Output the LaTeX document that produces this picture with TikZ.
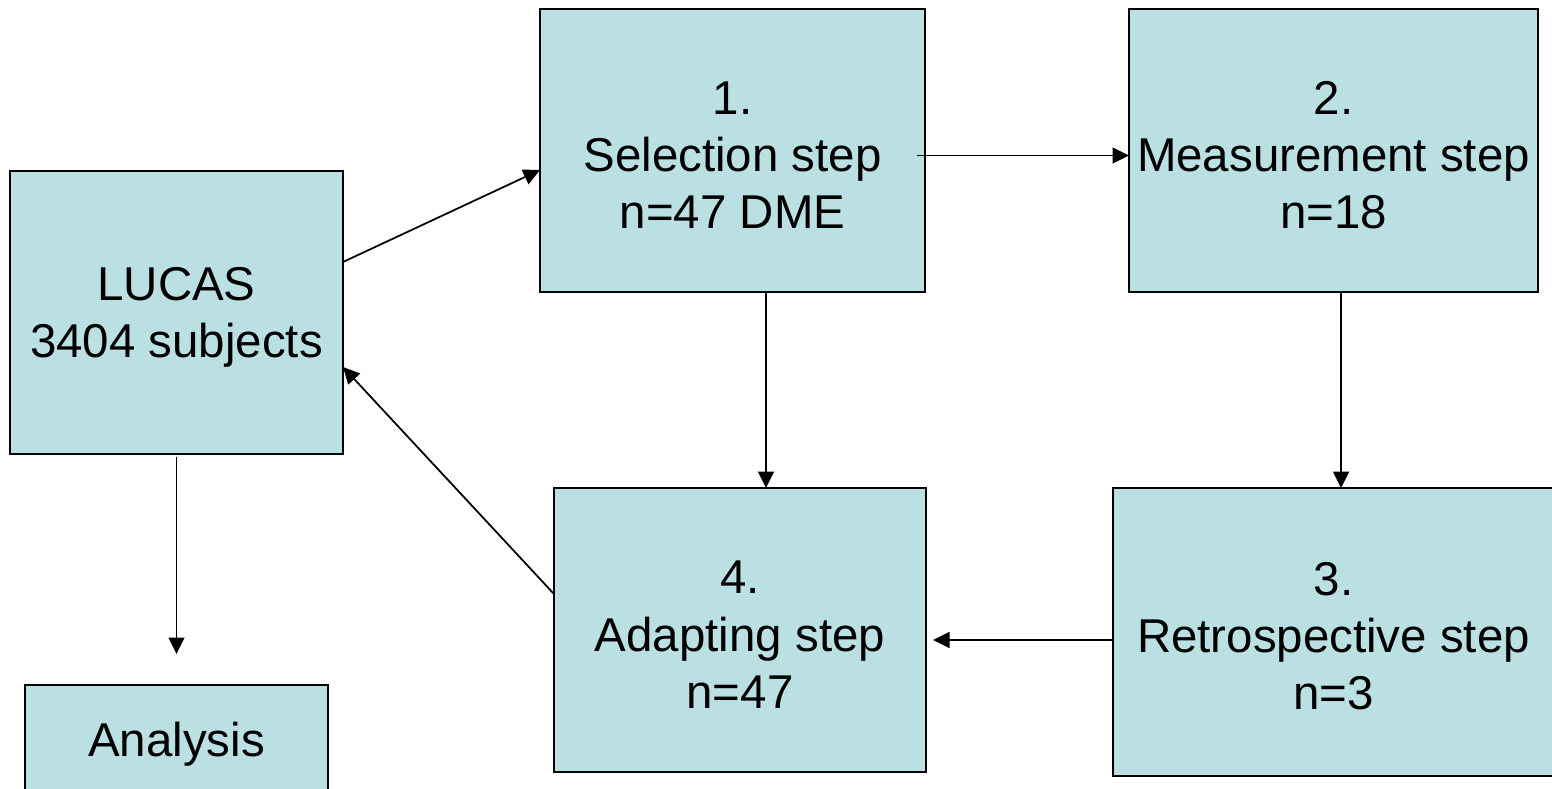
\documentclass[tikz,border=0pt]{standalone}
\usepackage{fontspec}
\setmainfont{Liberation Sans}
\usetikzlibrary{arrows.meta}
\definecolor{boxfill}{RGB}{187,224,227}
\newcommand{\topgap}{\rule{0pt}{24pt}}

\begin{document}
\begin{tikzpicture}[
  stepbox/.style={draw=black, line width=1.2pt, fill=boxfill, inner sep=0pt,
    outer sep=0pt, align=center, font=\fontsize{27}{32.5}\selectfont},
  arr/.style={-{Triangle[length=0.33cm,width=0.32cm]}, line width=1pt}
]
\clip (0,0) rectangle (31.04cm,-15.76cm);
\fill[white] (0,0) rectangle (31.04cm,-15.76cm);

\draw (3.53cm,-6.25cm)   node (lucas) [stepbox, minimum width=6.66cm, minimum height=5.66cm] {\topgap LUCAS\\3404 subjects};
\draw (3.53cm,-14.8cm)   node (analysis) [stepbox, minimum width=6.06cm, minimum height=2.2cm] {\topgap Analysis};

\draw (14.65cm,-3.01cm)  node (sel)   [stepbox, minimum width=7.7cm, minimum height=5.66cm] {\topgap 1.\\Selection step\\n=47 DME};
\draw (26.67cm,-3.01cm)  node (meas)  [stepbox, minimum width=8.18cm, minimum height=5.66cm] {\topgap 2.\\Measurement step\\n=18};
\draw (26.67cm,-12.64cm) node (retro) [stepbox, minimum width=8.82cm, minimum height=5.76cm] {\topgap 3.\\Retrospective step\\n=3};
\draw (14.8cm,-12.6cm)   node (adapt) [stepbox, minimum width=7.44cm, minimum height=5.68cm] {\topgap 4.\\Adapting step\\n=47};

\draw[arr] ([yshift=1.01cm]lucas.east) -- ([yshift=-0.39cm]sel.west);
\draw[arr] ([xshift=-0.16cm,yshift=-0.1cm]sel.east) -- ([yshift=-0.1cm]meas.west);
\draw[arr] ([xshift=0.67cm]sel.south) -- ([xshift=0.52cm]adapt.north);
\draw[arr] ([xshift=0.15cm]meas.south) -- ([xshift=0.15cm]retro.north);
\draw[arr] ([yshift=-0.16cm]retro.west) -- ([xshift=0.14cm,yshift=-0.2cm]adapt.east);
\draw[arr] ([yshift=0.72cm]adapt.west) -- ([yshift=-1.09cm]lucas.east);
\draw[arr] ([yshift=-0.06cm]lucas.south) -- ([yshift=0.62cm]analysis.north);

\end{tikzpicture}
\end{document}
